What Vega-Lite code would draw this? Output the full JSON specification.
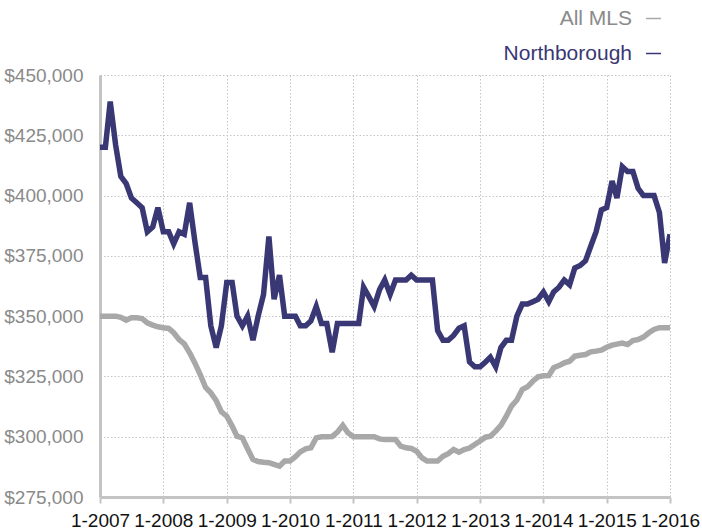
{
  "$schema": "https://vega.github.io/schema/vega-lite/v6.json",
  "width": 570,
  "height": 422,
  "autosize": {"type": "none"},
  "padding": {"left": 100, "top": 75, "right": 32, "bottom": 34},
  "background": "white",
  "config": {
    "view": {"stroke": null},
    "font": "Liberation Sans",
    "axis": {"labelFont": "Liberation Sans", "gridColor": "#c4c4c4", "gridDash": [1.5, 2], "gridWidth": 1, "domainColor": "#c4c4c4", "domainWidth": 3}
  },
  "data": {
    "values": [
      {"d":"2007-01-01","s":"Northborough","v":420000},{"d":"2007-02-01","s":"Northborough","v":420000},{"d":"2007-03-01","s":"Northborough","v":439000},{"d":"2007-04-01","s":"Northborough","v":421000},{"d":"2007-05-01","s":"Northborough","v":408000},{"d":"2007-06-01","s":"Northborough","v":405000},{"d":"2007-07-01","s":"Northborough","v":399000},{"d":"2007-08-01","s":"Northborough","v":397000},{"d":"2007-09-01","s":"Northborough","v":395000},{"d":"2007-10-01","s":"Northborough","v":385000},{"d":"2007-11-01","s":"Northborough","v":387000},{"d":"2007-12-01","s":"Northborough","v":395000},
      {"d":"2008-01-01","s":"Northborough","v":385000},{"d":"2008-02-01","s":"Northborough","v":385000},{"d":"2008-03-01","s":"Northborough","v":380000},{"d":"2008-04-01","s":"Northborough","v":385000},{"d":"2008-05-01","s":"Northborough","v":384000},{"d":"2008-06-01","s":"Northborough","v":397000},{"d":"2008-07-01","s":"Northborough","v":381000},{"d":"2008-08-01","s":"Northborough","v":366000},{"d":"2008-09-01","s":"Northborough","v":366000},{"d":"2008-10-01","s":"Northborough","v":346000},{"d":"2008-11-01","s":"Northborough","v":337000},{"d":"2008-12-01","s":"Northborough","v":346000},
      {"d":"2009-01-01","s":"Northborough","v":364000},{"d":"2009-02-01","s":"Northborough","v":364000},{"d":"2009-03-01","s":"Northborough","v":350000},{"d":"2009-04-01","s":"Northborough","v":346000},{"d":"2009-05-01","s":"Northborough","v":350000},{"d":"2009-06-01","s":"Northborough","v":340000},{"d":"2009-07-01","s":"Northborough","v":350000},{"d":"2009-08-01","s":"Northborough","v":359000},{"d":"2009-09-01","s":"Northborough","v":383000},{"d":"2009-10-01","s":"Northborough","v":357000},{"d":"2009-11-01","s":"Northborough","v":367000},{"d":"2009-12-01","s":"Northborough","v":350000},
      {"d":"2010-01-01","s":"Northborough","v":350000},{"d":"2010-02-01","s":"Northborough","v":350000},{"d":"2010-03-01","s":"Northborough","v":346000},{"d":"2010-04-01","s":"Northborough","v":346000},{"d":"2010-05-01","s":"Northborough","v":348000},{"d":"2010-06-01","s":"Northborough","v":354000},{"d":"2010-07-01","s":"Northborough","v":347000},{"d":"2010-08-01","s":"Northborough","v":347000},{"d":"2010-09-01","s":"Northborough","v":335000},{"d":"2010-10-01","s":"Northborough","v":347000},{"d":"2010-11-01","s":"Northborough","v":347000},{"d":"2010-12-01","s":"Northborough","v":347000},
      {"d":"2011-01-01","s":"Northborough","v":347000},{"d":"2011-02-01","s":"Northborough","v":347000},{"d":"2011-03-01","s":"Northborough","v":362000},{"d":"2011-04-01","s":"Northborough","v":358000},{"d":"2011-05-01","s":"Northborough","v":354000},{"d":"2011-06-01","s":"Northborough","v":361000},{"d":"2011-07-01","s":"Northborough","v":365000},{"d":"2011-08-01","s":"Northborough","v":359000},{"d":"2011-09-01","s":"Northborough","v":365000},{"d":"2011-10-01","s":"Northborough","v":365000},{"d":"2011-11-01","s":"Northborough","v":365000},{"d":"2011-12-01","s":"Northborough","v":367000},
      {"d":"2012-01-01","s":"Northborough","v":365000},{"d":"2012-02-01","s":"Northborough","v":365000},{"d":"2012-03-01","s":"Northborough","v":365000},{"d":"2012-04-01","s":"Northborough","v":365000},{"d":"2012-05-01","s":"Northborough","v":344000},{"d":"2012-06-01","s":"Northborough","v":340000},{"d":"2012-07-01","s":"Northborough","v":340000},{"d":"2012-08-01","s":"Northborough","v":342000},{"d":"2012-09-01","s":"Northborough","v":345000},{"d":"2012-10-01","s":"Northborough","v":346000},{"d":"2012-11-01","s":"Northborough","v":331000},{"d":"2012-12-01","s":"Northborough","v":329000},
      {"d":"2013-01-01","s":"Northborough","v":329000},{"d":"2013-02-01","s":"Northborough","v":331000},{"d":"2013-03-01","s":"Northborough","v":333000},{"d":"2013-04-01","s":"Northborough","v":329000},{"d":"2013-05-01","s":"Northborough","v":337000},{"d":"2013-06-01","s":"Northborough","v":340000},{"d":"2013-07-01","s":"Northborough","v":340000},{"d":"2013-08-01","s":"Northborough","v":350000},{"d":"2013-09-01","s":"Northborough","v":355000},{"d":"2013-10-01","s":"Northborough","v":355000},{"d":"2013-11-01","s":"Northborough","v":356000},{"d":"2013-12-01","s":"Northborough","v":357000},
      {"d":"2014-01-01","s":"Northborough","v":360000},{"d":"2014-02-01","s":"Northborough","v":356000},{"d":"2014-03-01","s":"Northborough","v":360000},{"d":"2014-04-01","s":"Northborough","v":362000},{"d":"2014-05-01","s":"Northborough","v":365000},{"d":"2014-06-01","s":"Northborough","v":363000},{"d":"2014-07-01","s":"Northborough","v":370000},{"d":"2014-08-01","s":"Northborough","v":371000},{"d":"2014-09-01","s":"Northborough","v":373000},{"d":"2014-10-01","s":"Northborough","v":379000},{"d":"2014-11-01","s":"Northborough","v":385000},{"d":"2014-12-01","s":"Northborough","v":394000},
      {"d":"2015-01-01","s":"Northborough","v":395000},{"d":"2015-02-01","s":"Northborough","v":406000},{"d":"2015-03-01","s":"Northborough","v":399000},{"d":"2015-04-01","s":"Northborough","v":412000},{"d":"2015-05-01","s":"Northborough","v":410000},{"d":"2015-06-01","s":"Northborough","v":410000},{"d":"2015-07-01","s":"Northborough","v":403000},{"d":"2015-08-01","s":"Northborough","v":400000},{"d":"2015-09-01","s":"Northborough","v":400000},{"d":"2015-10-01","s":"Northborough","v":400000},{"d":"2015-11-01","s":"Northborough","v":393000},{"d":"2015-12-01","s":"Northborough","v":372000},
      {"d":"2016-01-01","s":"Northborough","v":384000},
      {"d":"2007-01-01","s":"All MLS","v":350000},{"d":"2007-02-01","s":"All MLS","v":350000},{"d":"2007-03-01","s":"All MLS","v":350000},{"d":"2007-04-01","s":"All MLS","v":350000},{"d":"2007-05-01","s":"All MLS","v":349500},{"d":"2007-06-01","s":"All MLS","v":348300},{"d":"2007-07-01","s":"All MLS","v":349300},{"d":"2007-08-01","s":"All MLS","v":349300},{"d":"2007-09-01","s":"All MLS","v":349000},{"d":"2007-10-01","s":"All MLS","v":347200},{"d":"2007-11-01","s":"All MLS","v":346300},{"d":"2007-12-01","s":"All MLS","v":345600},
      {"d":"2008-01-01","s":"All MLS","v":345200},{"d":"2008-02-01","s":"All MLS","v":344900},{"d":"2008-03-01","s":"All MLS","v":343100},{"d":"2008-04-01","s":"All MLS","v":340300},{"d":"2008-05-01","s":"All MLS","v":338500},{"d":"2008-06-01","s":"All MLS","v":334800},{"d":"2008-07-01","s":"All MLS","v":330600},{"d":"2008-08-01","s":"All MLS","v":325800},{"d":"2008-09-01","s":"All MLS","v":320400},{"d":"2008-10-01","s":"All MLS","v":318200},{"d":"2008-11-01","s":"All MLS","v":315000},{"d":"2008-12-01","s":"All MLS","v":310300},
      {"d":"2009-01-01","s":"All MLS","v":308500},{"d":"2009-02-01","s":"All MLS","v":304400},{"d":"2009-03-01","s":"All MLS","v":300200},{"d":"2009-04-01","s":"All MLS","v":299500},{"d":"2009-05-01","s":"All MLS","v":295000},{"d":"2009-06-01","s":"All MLS","v":290600},{"d":"2009-07-01","s":"All MLS","v":289700},{"d":"2009-08-01","s":"All MLS","v":289400},{"d":"2009-09-01","s":"All MLS","v":289200},{"d":"2009-10-01","s":"All MLS","v":288500},{"d":"2009-11-01","s":"All MLS","v":287800},{"d":"2009-12-01","s":"All MLS","v":289900},
      {"d":"2010-01-01","s":"All MLS","v":289900},{"d":"2010-02-01","s":"All MLS","v":291700},{"d":"2010-03-01","s":"All MLS","v":293700},{"d":"2010-04-01","s":"All MLS","v":295000},{"d":"2010-05-01","s":"All MLS","v":295400},{"d":"2010-06-01","s":"All MLS","v":299500},{"d":"2010-07-01","s":"All MLS","v":300000},{"d":"2010-08-01","s":"All MLS","v":300000},{"d":"2010-09-01","s":"All MLS","v":300100},{"d":"2010-10-01","s":"All MLS","v":301900},{"d":"2010-11-01","s":"All MLS","v":304700},{"d":"2010-12-01","s":"All MLS","v":301600},
      {"d":"2011-01-01","s":"All MLS","v":300000},{"d":"2011-02-01","s":"All MLS","v":300000},{"d":"2011-03-01","s":"All MLS","v":300000},{"d":"2011-04-01","s":"All MLS","v":300000},{"d":"2011-05-01","s":"All MLS","v":300000},{"d":"2011-06-01","s":"All MLS","v":299100},{"d":"2011-07-01","s":"All MLS","v":298800},{"d":"2011-08-01","s":"All MLS","v":298800},{"d":"2011-09-01","s":"All MLS","v":298800},{"d":"2011-10-01","s":"All MLS","v":296100},{"d":"2011-11-01","s":"All MLS","v":295400},{"d":"2011-12-01","s":"All MLS","v":295100},
      {"d":"2012-01-01","s":"All MLS","v":294000},{"d":"2012-02-01","s":"All MLS","v":291200},{"d":"2012-03-01","s":"All MLS","v":289900},{"d":"2012-04-01","s":"All MLS","v":289900},{"d":"2012-05-01","s":"All MLS","v":289900},{"d":"2012-06-01","s":"All MLS","v":291900},{"d":"2012-07-01","s":"All MLS","v":293000},{"d":"2012-08-01","s":"All MLS","v":294700},{"d":"2012-09-01","s":"All MLS","v":293600},{"d":"2012-10-01","s":"All MLS","v":294700},{"d":"2012-11-01","s":"All MLS","v":295300},{"d":"2012-12-01","s":"All MLS","v":296800},
      {"d":"2013-01-01","s":"All MLS","v":298200},{"d":"2013-02-01","s":"All MLS","v":299800},{"d":"2013-03-01","s":"All MLS","v":300200},{"d":"2013-04-01","s":"All MLS","v":302300},{"d":"2013-05-01","s":"All MLS","v":304700},{"d":"2013-06-01","s":"All MLS","v":308500},{"d":"2013-07-01","s":"All MLS","v":312700},{"d":"2013-08-01","s":"All MLS","v":315200},{"d":"2013-09-01","s":"All MLS","v":319600},{"d":"2013-10-01","s":"All MLS","v":320700},{"d":"2013-11-01","s":"All MLS","v":323000},{"d":"2013-12-01","s":"All MLS","v":324800},
      {"d":"2014-01-01","s":"All MLS","v":325300},{"d":"2014-02-01","s":"All MLS","v":325400},{"d":"2014-03-01","s":"All MLS","v":328600},{"d":"2014-04-01","s":"All MLS","v":329500},{"d":"2014-05-01","s":"All MLS","v":330600},{"d":"2014-06-01","s":"All MLS","v":331300},{"d":"2014-07-01","s":"All MLS","v":333400},{"d":"2014-08-01","s":"All MLS","v":333800},{"d":"2014-09-01","s":"All MLS","v":334100},{"d":"2014-10-01","s":"All MLS","v":335200},{"d":"2014-11-01","s":"All MLS","v":335500},{"d":"2014-12-01","s":"All MLS","v":335900},
      {"d":"2015-01-01","s":"All MLS","v":337100},{"d":"2015-02-01","s":"All MLS","v":338000},{"d":"2015-03-01","s":"All MLS","v":338400},{"d":"2015-04-01","s":"All MLS","v":338800},{"d":"2015-05-01","s":"All MLS","v":338200},{"d":"2015-06-01","s":"All MLS","v":339900},{"d":"2015-07-01","s":"All MLS","v":340300},{"d":"2015-08-01","s":"All MLS","v":341300},{"d":"2015-09-01","s":"All MLS","v":343100},{"d":"2015-10-01","s":"All MLS","v":344500},{"d":"2015-11-01","s":"All MLS","v":345200},{"d":"2015-12-01","s":"All MLS","v":345200},
      {"d":"2016-01-01","s":"All MLS","v":345200}
    ]
  },
  "mark": {"type": "line", "strokeWidth": 5.5, "clip": true},
  "encoding": {
    "x": {
      "field": "d", "type": "temporal",
      "scale": {"type": "utc", "domain": [{"year": 2007, "month": 1, "date": 1, "utc": true}, {"year": 2016, "month": 1, "date": 1, "utc": true}], "nice": false},
      "axis": {"title": null, "format": "%-m-%Y", "tickCount": {"interval": "year", "step": 1}, "labelFontSize": 19, "labelColor": "#111111", "labelPadding": 8, "tickSize": 6, "tickWidth": 2, "tickColor": "#c4c4c4", "labelFlush": false, "labelOverlap": false, "grid": true}
    },
    "y": {
      "field": "v", "type": "quantitative",
      "scale": {"domain": [275000, 450000], "nice": false, "zero": false},
      "axis": {"title": null, "values": [275000, 300000, 325000, 350000, 375000, 400000, 425000, 450000], "format": "$,.0f", "labelFontSize": 19, "labelColor": "#8a8a8a", "ticks": false, "tickSize": 0, "labelPadding": 17, "grid": true}
    },
    "color": {
      "field": "s", "type": "nominal",
      "scale": {"domain": ["All MLS", "Northborough"], "range": ["#a8a8a8", "#3a3775"]},
      "legend": {
        "title": null, "orient": "none", "legendX": 543, "legendY": -67, "padding": 0,
        "symbolType": "stroke", "symbolSize": 225, "symbolStrokeWidth": 1.5,
        "labelAlign": "right", "labelOffset": -32, "labelFontSize": 21, "labelFont": "Liberation Sans", "labelLimit": 300,
        "rowPadding": 13,
        "encode": {"labels": {"update": {"fill": {"signal": "datum.value === 'All MLS' ? '#8a8a8a' : '#3a3775'"}}}}
      }
    }
  }
}
